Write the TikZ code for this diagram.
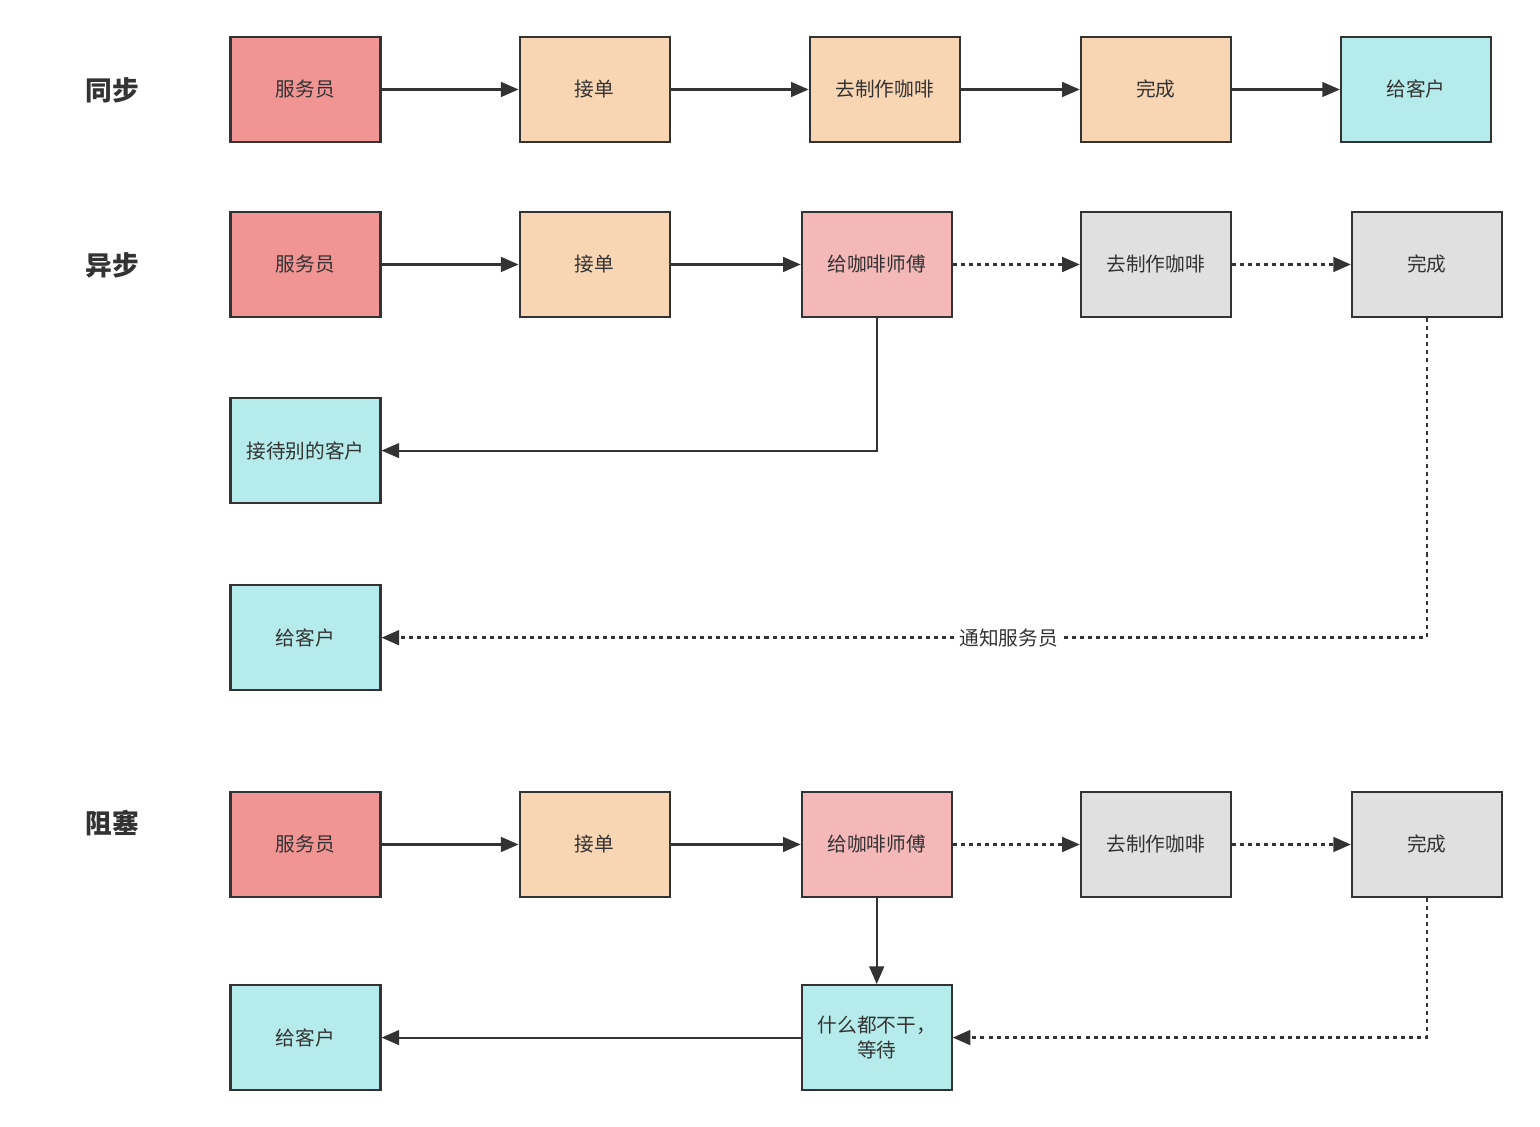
\documentclass[tikz,border=0pt]{standalone}
\usepackage{fontspec}
\setmainfont{Noto Sans CJK SC}
\usetikzlibrary{arrows.meta,positioning}
\definecolor{linec}{HTML}{333333}
\definecolor{waiterc}{HTML}{F19594}
\definecolor{orderc}{HTML}{F8D5B3}
\definecolor{guestc}{HTML}{B5EBEA}
\definecolor{baristac}{HTML}{F5B8B8}
\definecolor{idlec}{HTML}{E0E0E0}
\tikzset{%
   box/.style={draw=linec, line width=0.6pt, minimum width=1.5cm, minimum height=1.05cm, inner sep=1pt, align=center, text=linec, font=\fontsize{5.6}{7.2}\selectfont},
   flow/.style={draw=linec, line width=0.6pt, -{Triangle[length=5pt, width=4.2pt]}},
   wait/.style={flow, line width=0.7pt, dash pattern=on 1.15pt off 1.15pt},
   title/.style={text=linec, font=\bfseries\fontsize{7.6}{9}\selectfont},
}

\begin{document}
\begin{tikzpicture}
         \useasboundingbox (0,0) rectangle (15.4,-11.27);
         % titles
         \node[title] (t0) at (1.12,-0.90) {同步};
         \node[title] (t1) at (1.12,-2.65) {异步};
         \node[title] (t2) at (1.12,-8.23) {阻塞};
         % sync row
         \node[box, fill=waiterc] (s0) at (3.055,-0.895) {服务员};
         \node[box, fill=orderc, right=1.37cm of s0] (s1) {接单};
         \node[box, fill=orderc, right=1.38cm of s1] (s2) {去制作咖啡};
         \node[box, fill=orderc, right=1.19cm of s2] (s3) {完成};
         \node[box, fill=guestc, right=1.08cm of s3] (s4) {给客户};
         \draw[flow] (s0) -- (s1);
         \draw[flow] (s1) -- (s2);
         \draw[flow] (s2) -- (s3);
         \draw[flow] (s3) -- (s4);
         % async row
         \node[box, fill=waiterc] (a0) at (3.055,-2.645) {服务员};
         \node[box, fill=orderc, right=1.37cm of a0] (a1) {接单};
         \node[box, fill=baristac, right=1.30cm of a1] (a2) {给咖啡师傅};
         \node[box, fill=idlec, right=1.27cm of a2] (a3) {去制作咖啡};
         \node[box, fill=idlec, right=1.19cm of a3] (a4) {完成};
         \node[box, fill=guestc, below=0.79cm of a0] (a5) {接待别的客户};
         \node[box, fill=guestc, below=0.80cm of a5] (a6) {给客户};
         \draw[flow] (a0) -- (a1);
         \draw[flow] (a1) -- (a2);
         \draw[wait] (a2) -- (a3);
         \draw[wait] (a3) -- (a4);
         \draw[flow] (a2.south) |- (a5);
         \draw[wait] (a4.south) |- node[pos=0.7, fill=white, inner sep=0.5pt, text=linec, font=\fontsize{5.6}{7.2}\selectfont] {通知服务员} (a6);
         % blocking row
         \node[box, fill=waiterc] (b0) at (3.055,-8.445) {服务员};
         \node[box, fill=orderc, right=1.37cm of b0] (b1) {接单};
         \node[box, fill=baristac, right=1.30cm of b1] (b2) {给咖啡师傅};
         \node[box, fill=idlec, right=1.27cm of b2] (b3) {去制作咖啡};
         \node[box, fill=idlec, right=1.19cm of b3] (b4) {完成};
         \node[box, fill=guestc, below=0.86cm of b0] (b5) {给客户};
         \node[box, fill=guestc, below=0.86cm of b2] (b6) {什么都不干，\\等待};
         \draw[flow] (b0) -- (b1);
         \draw[flow] (b1) -- (b2);
         \draw[wait] (b2) -- (b3);
         \draw[wait] (b3) -- (b4);
         \draw[flow] (b2) -- (b6);
         \draw[wait] (b4.south) |- (b6);
         \draw[flow] (b6) -- (b5);
      \end{tikzpicture}
\end{document}
